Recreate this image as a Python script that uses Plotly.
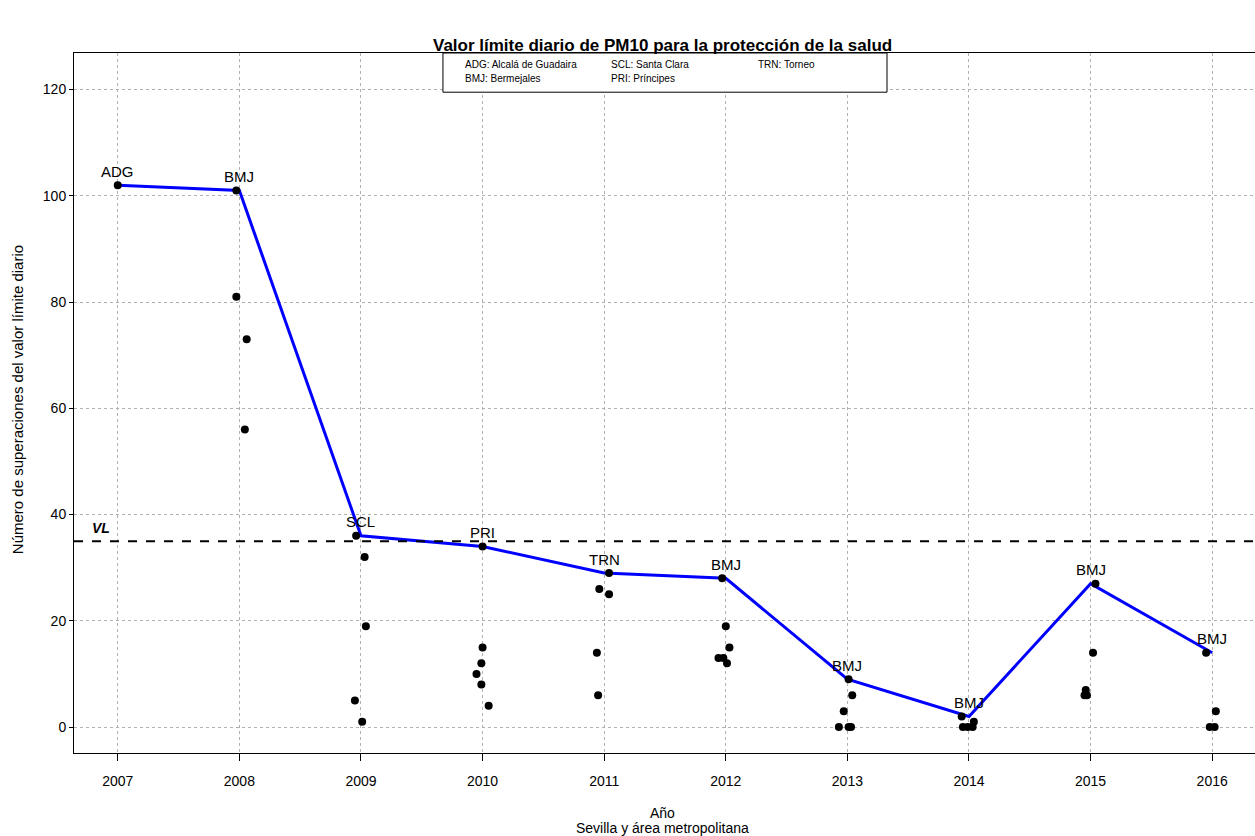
import plotly.graph_objects as go

# ---- data ----
years = [2007, 2008, 2009, 2010, 2011, 2012, 2013, 2014, 2015, 2016]
max_values = [102, 101, 36, 34, 29, 28, 9, 2, 27, 14]
max_station = ["ADG", "BMJ", "SCL", "PRI", "TRN", "BMJ", "BMJ", "BMJ", "BMJ", "BMJ"]

# all stations' exceedances per year (values), with small horizontal jitter
point_values = {
    2007: [102],
    2008: [101, 81, 73, 56],
    2009: [36, 32, 19, 5, 1],
    2010: [34, 15, 12, 10, 8, 4],
    2011: [29, 26, 25, 14, 6],
    2012: [28, 19, 15, 13, 13, 12],
    2013: [9, 6, 3, 0, 0, 0],
    2014: [2, 1, 0, 0, 0],
    2015: [27, 14, 7, 6, 6],
    2016: [14, 3, 0, 0],
}
point_jitter = {
    2007: [0.0],
    2008: [-0.025, -0.025, 0.06, 0.045],
    2009: [-0.04, 0.03, 0.04, -0.05, 0.01],
    2010: [0.0, 0.0, -0.01, -0.05, -0.01, 0.05],
    2011: [0.04, -0.04, 0.04, -0.06, -0.05],
    2012: [-0.03, 0.0, 0.03, -0.06, -0.02, 0.01],
    2013: [0.01, 0.04, -0.03, -0.07, 0.01, 0.03],
    2014: [-0.06, 0.04, -0.05, -0.01, 0.03],
    2015: [0.04, 0.02, -0.04, -0.05, -0.03],
    2016: [-0.05, 0.03, -0.02, 0.02],
}
limit_value = 35
y_ticks = [0, 20, 40, 60, 80, 100, 120]
legend_cols = [
    ["ADG: Alcalá de Guadaira", "BMJ: Bermejales"],
    ["SCL: Santa Clara", "PRI: Príncipes"],
    ["TRN: Torneo"],
]

title = "Valor límite diario de PM10 para la protección de la salud"
x_title = "Año"
x_subtitle = "Sevilla y área metropolitana"
y_title = "Número de superaciones del valor límite diario"

FONT = "Liberation Sans, Arial, sans-serif"

px_x, px_y = [], []
for yr in years:
    for v, j in zip(point_values[yr], point_jitter[yr]):
        px_x.append(yr + j)
        px_y.append(v)

fig = go.Figure()

fig.add_trace(go.Scatter(
    x=years, y=max_values, mode="lines",
    line=dict(color="#0000ff", width=3), showlegend=False, hoverinfo="skip"))

fig.add_trace(go.Scatter(
    x=px_x, y=px_y, mode="markers",
    marker=dict(color="black", size=8), showlegend=False))

# limit value line
fig.add_shape(type="line", xref="paper", x0=0, x1=1, yref="y", y0=limit_value, y1=limit_value,
              line=dict(color="black", width=2, dash="dash"))
fig.add_annotation(x=0.0135, xref="paper", y=limit_value, yref="y", yshift=13, text="<b><i>VL</i></b>",
                   showarrow=False, xanchor="left", yanchor="middle",
                   font=dict(size=14, color="black", family=FONT))

# station labels
for yr, v, s in zip(years, max_values, max_station):
    fig.add_annotation(x=yr, y=v, text=s, showarrow=False, yshift=14, yanchor="middle",
                       font=dict(size=15, color="black", family=FONT))

# legend box
fig.add_shape(type="rect", xref="paper", yref="paper", x0=0.3124, x1=0.6884, y0=0.944, y1=1.0,
              line=dict(color="black", width=1), fillcolor="white", layer="above")
col_x = [0.3294, 0.4530, 0.5775]
row_y = [0.9829, 0.9629]
for cx, col in zip(col_x, legend_cols):
    for ry, t in zip(row_y, col):
        fig.add_annotation(x=cx, y=ry, xref="paper", yref="paper", text=t, showarrow=False,
                           xanchor="left", yanchor="middle",
                           font=dict(size=10, color="black", family=FONT))

# titles
fig.add_annotation(x=0.4987, y=1.0, xref="paper", yref="paper", yshift=8, yanchor="middle",
                   text="<b>" + title + "</b>",
                   showarrow=False, font=dict(size=17, color="black", family=FONT))
fig.add_annotation(x=0.4987, y=0, xref="paper", yref="paper", yshift=-60, yanchor="middle",
                   text=x_title, showarrow=False, font=dict(size=14, color="black", family=FONT))
fig.add_annotation(x=0.4987, y=0, xref="paper", yref="paper", yshift=-75, yanchor="middle",
                   text=x_subtitle, showarrow=False, font=dict(size=14, color="black", family=FONT))
fig.add_annotation(x=0, y=0.504, xref="paper", yref="paper", xshift=-57, xanchor="center",
                   yanchor="middle", text=y_title,
                   textangle=-90, showarrow=False, font=dict(size=15, color="black", family=FONT))

fig.update_layout(
    width=1255, height=836,
    margin=dict(l=74, r=0, t=53, b=83),
    plot_bgcolor="white", paper_bgcolor="white",
    font=dict(family=FONT, size=14, color="black"),
    showlegend=False,
    xaxis=dict(range=[2006.64, 2016.352], tickmode="array", tickvals=years,
               ticktext=[str(y) for y in years],
               showgrid=True, gridcolor="#b0b0b0", griddash="dot", gridwidth=1,
               showline=True, linecolor="black", linewidth=1, mirror=True,
               ticks="outside", ticklen=7, tickcolor="black", zeroline=False,
               ticklabelstandoff=8),
    yaxis=dict(range=[-4.88, 126.88], tickmode="array", tickvals=y_ticks,
               showgrid=True, gridcolor="#b0b0b0", griddash="dot", gridwidth=1,
               showline=True, linecolor="black", linewidth=1, mirror=True,
               ticks="outside", ticklen=4, tickcolor="black", zeroline=False),
)

fig.write_html("out.html", config={"displayModeBar": False},
               post_script="document.body.style.margin='0';document.body.style.overflow='hidden';")
